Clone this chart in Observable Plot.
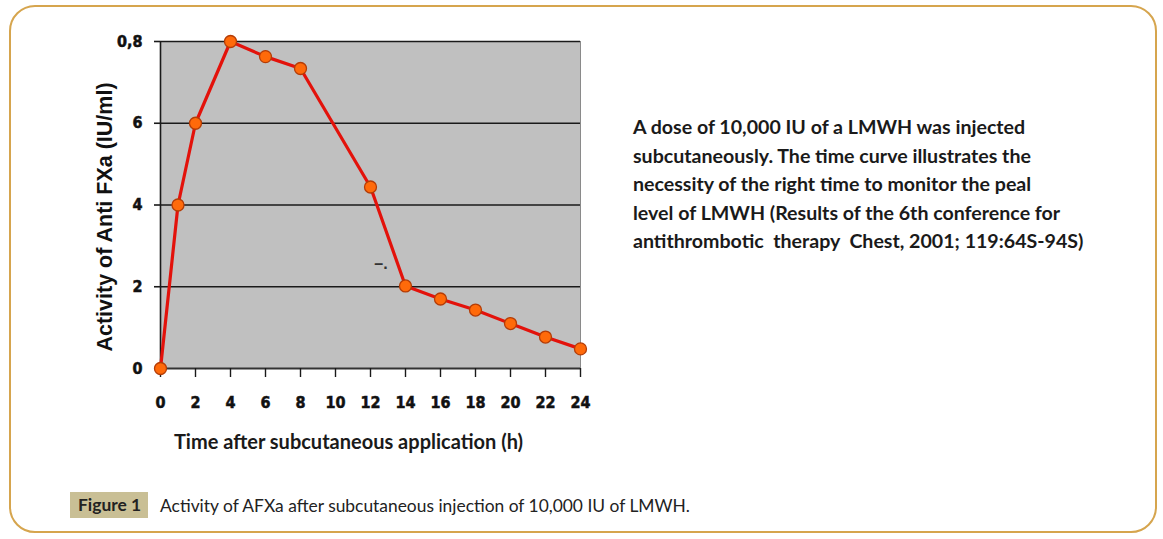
<!DOCTYPE html>
<html>
<head>
<meta charset="utf-8">
<script src="https://cdn.jsdelivr.net/npm/d3@7"></script>
<script src="https://cdn.jsdelivr.net/npm/@observablehq/plot@0.6"></script>
<style>
  html, body { margin: 0; padding: 0; background: #fff; width: 1163px; height: 539px; overflow: hidden; }
  #border { position: absolute; left: 9px; top: 5px; width: 1144px; height: 524px; border: 2px solid #d6a54e; border-radius: 26px; }
  #chart { position: absolute; left: 0; top: 0; }
  #note { position: absolute; left: 633px; top: 113px; width: 500px; font-family: Lato, "Open Sans", sans-serif; font-weight: bold; font-size: 19.6px; line-height: 28.5px; color: #1a1a1a; }
  #caption { position: absolute; left: 70px; top: 492px; height: 26px; font-family: Lato, "Open Sans", sans-serif; font-size: 17.4px; color: #222; display: flex; align-items: center; }
  #caption .fig { background: #c9bf95; font-weight: bold; height: 26px; line-height: 26px; padding: 0 7px 0 8px; }
  #caption .txt { margin-left: 12px; }
</style>
</head>
<body>
<div id="border"></div>
<div id="chart"></div>
<div id="note">A dose of 10,000 IU of a LMWH was injected<br>subcutaneously. The time curve illustrates the<br>necessity of the right time to monitor the peal<br>level of LMWH (Results of the 6th conference for<br>antithrombotic&nbsp; therapy&nbsp; Chest, 2001; 119:64S-94S)</div>
<div id="caption"><span class="fig">Figure 1</span><span class="txt">Activity of AFXa after subcutaneous injection of 10,000 IU of LMWH.</span></div>
<script>
const hours = [0, 1, 2, 4, 6, 8, 12, 14, 16, 18, 20, 22, 24];
const activity = [0, 4.0, 6.0, 8.0, 7.63, 7.34, 4.44, 2.02, 1.7, 1.43, 1.1, 0.77, 0.48];
const yTicks = [0, 2, 4, 6, 8];
const yTickLabels = ["0", "2", "4", "6", "0,8"];
const xTicks = [0, 2, 4, 6, 8, 10, 12, 14, 16, 18, 20, 22, 24];
const artifactX = [12.6];
const artifactY = [2.55];
const artifactText = ["–."];

const data = hours.map((h, i) => ({h, v: activity[i]}));
const artifacts = artifactX.map((x, i) => ({x, y: artifactY[i], t: artifactText[i]}));
const tickFont = "'Liberation Sans Narrow', 'DejaVu Sans Condensed', sans-serif";

const plot = Plot.plot({
  width: 600,
  height: 460,
  marginLeft: 160,
  marginRight: 20,
  marginTop: 41,
  marginBottom: 92,
  style: {background: "transparent", fontFamily: "'Liberation Sans', Arial, sans-serif", color: "#111"},
  x: {domain: [0, 24]},
  y: {domain: [0, 8]},
  marks: [
    Plot.frame({fill: "#c0c0c0", stroke: "#8a8a8a"}),
    Plot.ruleY(yTicks.filter(d => d > 0), {stroke: "#1a1a1a", strokeWidth: 1.6, x1: 0, x2: 24}),
    Plot.ruleY([0], {stroke: "#333", strokeWidth: 2}),
    Plot.ruleX([0], {stroke: "#1a1a1a", strokeWidth: 1.6}),
    Plot.axisY({
      ticks: yTicks,
      tickFormat: (d) => yTickLabels[yTicks.indexOf(d)],
      tickSize: 6,
      tickPadding: 12,
      stroke: "#1a1a1a",
      strokeWidth: 1.6,
      fontSize: 16,
      fontWeight: "bold",
      fontFamily: tickFont,
      label: "Activity of Anti FXa (IU/ml)",
      labelAnchor: "center",
      labelArrow: "none",
      labelOffset: 64
    }),
    Plot.axisX({
      ticks: xTicks,
      tickSize: 9,
      tickPadding: 19,
      stroke: "#1a1a1a",
      strokeWidth: 1.4,
      fontSize: 16,
      fontWeight: "bold",
      fontFamily: tickFont,
      label: "Time after subcutaneous application (h)",
      labelAnchor: "center",
      labelArrow: "none",
      labelOffset: 80
    }),
    Plot.text(artifacts, {x: "x", y: "y", text: "t", fontSize: 16, fontWeight: "bold", fill: "#333"}),
    Plot.line(data, {x: "h", y: "v", stroke: "#e3120b", strokeWidth: 3.2}),
    Plot.dot(data, {x: "h", y: "v", r: 6, fill: "#ff6a0a", stroke: "#b43c06", strokeWidth: 1.3})
  ]
});
document.getElementById("chart").append(plot);
d3.select(plot).selectAll("[aria-label='y-axis label'] text")
  .style("font-size", "21.5px").style("font-weight", "bold").style("font-family", "'Liberation Sans', Arial, sans-serif")
  .attr("dx", -12);
d3.select(plot).selectAll("[aria-label='x-axis label'] text")
  .style("font-size", "20px").style("font-weight", "bold").style("font-family", "Lato, 'Open Sans', sans-serif")
  .style("fill", "#1a1a1a")
  .attr("dx", -22);
d3.select(plot).selectAll("[aria-label='y-axis tick label'] text, [aria-label='x-axis tick label'] text")
  .style("stroke", "#111").style("stroke-width", "0.5px");
</script>
</body>
</html>
